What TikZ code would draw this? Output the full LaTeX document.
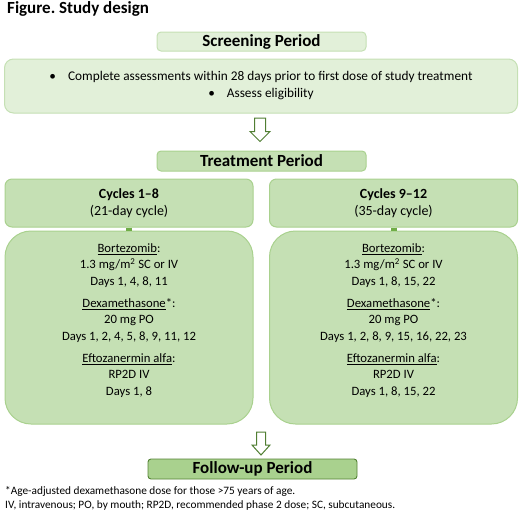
\documentclass[tikz,border=0pt]{standalone}
\usepackage{fontspec}
\setmainfont{Carlito}
\usetikzlibrary{calc}
\definecolor{lfill}{HTML}{E2F0D9}
\definecolor{lborder}{HTML}{C5E0B4}
\definecolor{mfill}{HTML}{C5E0B4}
\definecolor{mborder}{HTML}{A9D18E}
\definecolor{dfill}{HTML}{A9D18E}
\definecolor{dborder}{HTML}{548235}
\definecolor{conncol}{HTML}{70AD47}
\definecolor{arrowcol}{HTML}{507E32}
\frenchspacing
\begin{document}
\begin{tikzpicture}[x=1pt,y=-1pt,
  lightbox/.style={draw=lborder,fill=lfill,line width=1pt,inner sep=0pt},
  midbox/.style={draw=mborder,fill=mfill,line width=1pt,inner sep=0pt},
  darkbox/.style={draw=dborder,fill=dfill,line width=0.9pt,inner sep=0pt},
  hdr/.style={font=\fontsize{17}{18}\selectfont\bfseries},
  bodytext/.style={align=center,inner sep=0pt,font=\fontsize{12.7}{16.5}\selectfont},
  blockarrow/.style={draw=arrowcol,fill=white,line width=1pt,line join=miter},
  conn/.style={draw=conncol,line width=6pt}]
\useasboundingbox (0,0) rectangle (520,515);

\node[anchor=west,inner sep=0pt,font=\fontsize{17}{18}\selectfont\bfseries] (title) at (7,9) {Figure. Study design};

\node[lightbox,rounded corners=4pt,minimum width=209pt,minimum height=19pt,hdr] (screen) at (261.5,41.5) {Screening Period};

\node[lightbox,rounded corners=9pt,minimum width=513pt,minimum height=54pt,align=center,font=\fontsize{13.3}{17}\selectfont] (big) at (261,86)
  {•\hspace{0.9em}Complete assessments within 28 days prior to first dose of study treatment\\
   •\hspace{0.9em}Assess eligibility};

\node[midbox,rounded corners=4pt,minimum width=209pt,minimum height=20pt,hdr] (treat) at (261.5,161) {Treatment Period};

\node[midbox,rounded corners=7pt,minimum width=248pt,minimum height=48pt,align=center,font=\fontsize{14}{16.7}\selectfont] (c1) at (129,203)
  {\textbf{Cycles 1–8}\\(21-day cycle)};
\node[midbox,rounded corners=7pt,minimum width=248pt,minimum height=48pt,align=center,font=\fontsize{14}{16.7}\selectfont] (c2) at (393.5,203)
  {\textbf{Cycles 9–12}\\(35-day cycle)};

\node[midbox,rounded corners=26pt,minimum width=248pt,minimum height=193pt] (b1) at (129,327.5) {};
\node[midbox,rounded corners=26pt,minimum width=248pt,minimum height=193pt] (b2) at (393.5,327.5) {};

\draw[conn] (c1.south) -- (b1.north);
\draw[conn] (c2.south) -- (b2.north);

\node[bodytext] (t1) at ([yshift=7pt]b1.center)
  {\underline{Bortezomib}:\\1.3 mg/m\textsuperscript{2} SC or IV\\Days 1, 4, 8, 11\\[5.5pt]
   \underline{Dexamethasone}*:\\20 mg PO\\Days 1, 2, 4, 5, 8, 9, 11, 12\\[5.5pt]
   \underline{Eftozanermin alfa}:\\RP2D IV\\Days 1, 8};
\node[bodytext] (t2) at ([yshift=7pt]b2.center)
  {\underline{Bortezomib}:\\1.3 mg/m\textsuperscript{2} SC or IV\\Days 1, 8, 15, 22\\[5.5pt]
   \underline{Dexamethasone}*:\\20 mg PO\\Days 1, 2, 8, 9, 15, 16, 22, 23\\[5.5pt]
   \underline{Eftozanermin alfa}:\\RP2D IV\\Days 1, 8, 15, 22};

\node[darkbox,rounded corners=3pt,minimum width=209pt,minimum height=20pt,font=\fontsize{17}{18}\selectfont\bfseries] (follow) at (252.5,469) {Follow-up Period};

% block arrows
\coordinate (a1) at (260,118);
\draw[blockarrow] (a1) ++(-5.5,0) -- ++(11,0) -- ++(0,13.5) -- ++(4.5,0) -- ++(-10,10) -- ++(-10,-10) -- ++(4.5,0) -- cycle;
\coordinate (a2) at (261,432);
\draw[blockarrow] (a2) ++(-4.5,0) -- ++(9,0) -- ++(0,13) -- ++(4.5,0) -- ++(-9,10) -- ++(-9,-10) -- ++(4.5,0) -- cycle;

\node[anchor=west,align=left,inner sep=0pt,font=\fontsize{11.3}{13.3}\selectfont] (foot) at (5,498.5)
  {*Age-adjusted dexamethasone dose for those >75 years of age.\\
   IV, intravenous; PO, by mouth; RP2D, recommended phase 2 dose; SC, subcutaneous.};
\end{tikzpicture}
\end{document}
